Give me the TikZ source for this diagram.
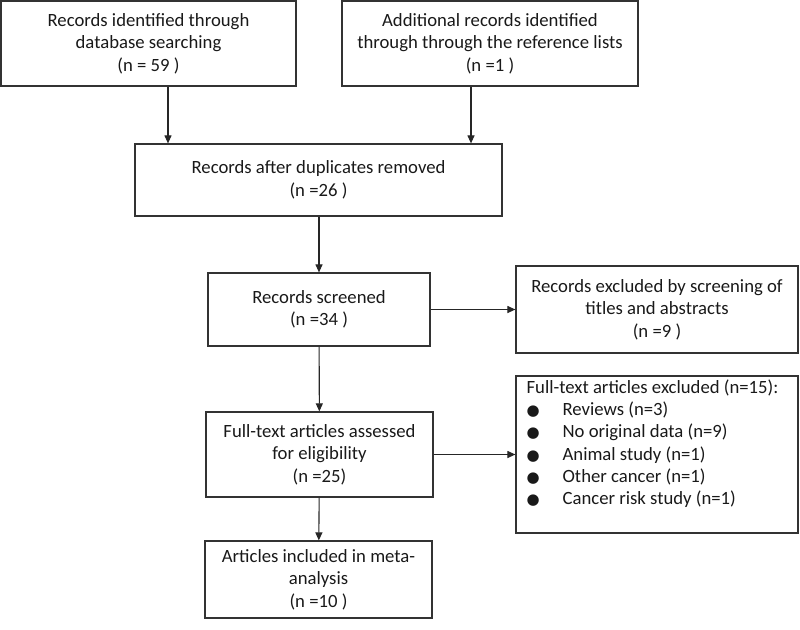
\documentclass[tikz,border=0pt]{standalone}
\usepackage{fontspec}
\setmainfont{Carlito}
\newfontfamily\symfont{DejaVu Sans}
\usetikzlibrary{arrows.meta}
\newcommand{\blt}{\makebox[36pt][l]{\symfont\fontsize{15}{22}\selectfont ●}}

\begin{document}
\begin{tikzpicture}[x=1pt, y=-1pt,
		box/.style = {draw = black!80, line width = 1.2pt, text = black!90, align = center, inner sep = 0pt, font = \fontsize{18.7}{22.5}\selectfont},
		listtxt/.style = {text = black!90, align = left, inner sep = 0pt, font = \fontsize{18.7}{22.3}\selectfont},
		arr/.style = {draw = black!85, line width = 1.1pt, -{Triangle[length = 8pt, width = 7pt]}}]
	\useasboundingbox (0,0) rectangle (800,629);
	\node[box, minimum width = 295, minimum height = 85] (ident) at (148.5,43.5) {Records identified through\\database searching\\(n = 59 )};
	\node[box, minimum width = 296, minimum height = 85] (extra) at (490,43.5) {Additional records identified\\through through the reference lists\\(n =1 )};
	\node[box, minimum width = 367, minimum height = 72] (dedup) at (318.5,180) {Records after duplicates removed\\(n =26 )};
	\node[box, minimum width = 222, minimum height = 73] (screen) at (319,309.5) {Records screened\\(n =34 )};
	\node[box, minimum width = 282, minimum height = 87] (scrout) at (657,309.5) {Records excluded by screening of\\titles and abstracts\\(n =9 )};
	\node[box, minimum width = 227, minimum height = 85] (full) at (319.5,454.5) {Full-text articles assessed\\for eligibility\\(n =25)};
	\node[box, minimum width = 282, minimum height = 157] (fullout) at (657,454.5) {};
	\node[listtxt, anchor = north west] (fullouttxt) at ([xshift = 11pt, yshift = -4pt]fullout.north west)
		{Full-text articles excluded (n=15):\\
		\blt Reviews (n=3)\\
		\blt No original data (n=9)\\
		\blt Animal study (n=1)\\
		\blt Other cancer (n=1)\\
		\blt Cancer risk study (n=1)};
	\node[box, minimum width = 227, minimum height = 77] (incl) at (318.5,579.5) {Articles included in meta-\\analysis\\(n =10 )};

	\draw[arr] ([xshift = 19.5pt]ident.south) -- ([xshift = 19.5pt]ident.south |- dedup.north);
	\draw[arr] ([xshift = -19pt]extra.south) -- ([xshift = -19pt]extra.south |- dedup.north);
	\draw[arr] (dedup.south -| screen.north) -- (screen.north);
	\draw[arr] (screen) -- (scrout);
	\draw[arr] (screen) -- (full);
	\draw[arr] (full) -- (full -| fullout.west);
	\draw[arr] (full) -- (incl);
\end{tikzpicture}
\end{document}
